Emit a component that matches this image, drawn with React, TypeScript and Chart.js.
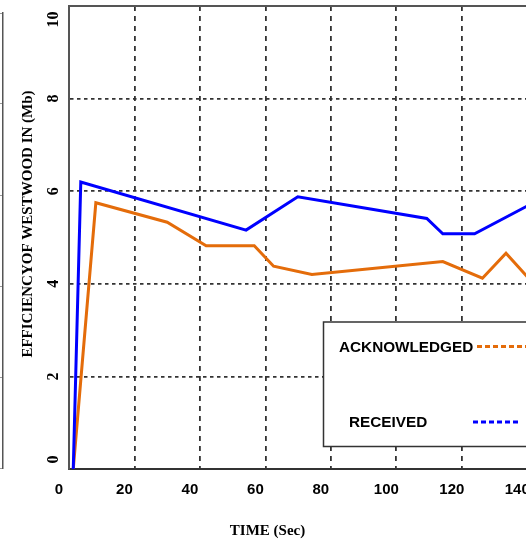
import React, { useEffect, useRef } from "react";
import { Chart, registerables } from "chart.js";

Chart.register(...registerables);

// ---- data ----
const timeReceived = [1.3, 3.6, 54.1, 69.9, 109.3, 114.2, 123.9, 140];
const received = [0, 6.2, 5.16, 5.88, 5.41, 5.08, 5.08, 5.68];

const timeAck = [1.3, 8.2, 30.0, 41.9, 56.6, 62.5, 74.2, 114.2, 126.3, 133.5, 140];
const acknowledged = [0, 5.75, 5.33, 4.82, 4.82, 4.38, 4.2, 4.48, 4.12, 4.66, 4.15];

const xTickValues = [0, 20, 40, 60, 80, 100, 120, 140];
const yTickValues = [0, 2, 4, 6, 8, 10];

const seriesLabels = ["RECEIVED", "ACKNOWLEDGED"];
const yTitle = "EFFICIENCYOF WESTWOOD IN (Mb)";
const xTitle = "TIME (Sec)";

const BLUE = "#0000ff";
const ORANGE = "#e46c0a";

const overlayPlugin = {
  id: "overlay",
  afterDraw(chart: any) {
    const { ctx, chartArea: a, scales } = chart;
    const ys = scales.y;
    ctx.save();
    // top frame line
    ctx.strokeStyle = "#555";
    ctx.lineWidth = 2;
    ctx.setLineDash([]);
    ctx.beginPath();
    ctx.moveTo(a.left - 1, a.top);
    ctx.lineTo(a.right, a.top);
    ctx.stroke();

    // y tick labels (rotated, kept inside the axis span)
    ctx.fillStyle = "#000";
    ctx.font = 'bold 16px "Liberation Serif"';
    ctx.textAlign = "center";
    ctx.textBaseline = "alphabetic";
    for (const t of ys.ticks) {
      const label = String(t.value);
      const w = ctx.measureText(label).width;
      let p = ys.getPixelForValue(t.value);
      p = Math.max(a.top + w / 2 + 5.5, Math.min(a.bottom - w / 2 - 5.5, p));
      ctx.save();
      ctx.translate(58.3, p);
      ctx.rotate(-Math.PI / 2);
      ctx.fillText(label, 0, 0);
      ctx.restore();
    }

    // y title
    ctx.font = 'bold 15px "Liberation Serif"';
    ctx.save();
    ctx.translate(31.5, 224);
    ctx.rotate(-Math.PI / 2);
    ctx.fillText(yTitle, 0, 0);
    ctx.restore();

    // x title
    ctx.fillText(xTitle, 267.5, 535);

    // legend
    const boxL = 323.5, boxT = 322, boxB = 446.5;
    ctx.fillStyle = "#fff";
    ctx.fillRect(boxL, boxT, 240, boxB - boxT);
    ctx.strokeStyle = "#333";
    ctx.lineWidth = 1.5;
    ctx.strokeRect(boxL, boxT, 240, boxB - boxT);

    const ds = chart.data.datasets;
    const ack = ds[1];
    const rec = ds[0];
    ctx.font = 'bold 15.3px "Liberation Sans"';
    ctx.textAlign = "left";
    ctx.fillStyle = "#000";
    ctx.fillText(ack.label, 339, 352);
    ctx.fillText(rec.label, 349, 426.5);

    ctx.lineWidth = 3;
    ctx.setLineDash([5, 3]);
    ctx.strokeStyle = ack.borderColor;
    ctx.beginPath();
    ctx.moveTo(477, 346.5);
    ctx.lineTo(526, 346.5);
    ctx.stroke();
    ctx.strokeStyle = rec.borderColor;
    ctx.beginPath();
    ctx.moveTo(473, 422);
    ctx.lineTo(520, 422);
    ctx.stroke();
    ctx.restore();
  },
};

export default function App() {
  const mainRef = useRef<HTMLCanvasElement | null>(null);
  const sideRef = useRef<HTMLCanvasElement | null>(null);

  useEffect(() => {
    const main = new Chart(mainRef.current as HTMLCanvasElement, {
      type: "line",
      data: {
        datasets: [
          {
            label: seriesLabels[0],
            data: timeReceived.map((x, i) => ({ x, y: received[i] })),
            borderColor: BLUE,
            backgroundColor: BLUE,
            borderWidth: 3,
            pointRadius: 0,
            tension: 0,
            fill: false,
          },
          {
            label: seriesLabels[1],
            data: timeAck.map((x, i) => ({ x, y: acknowledged[i] })),
            borderColor: ORANGE,
            backgroundColor: ORANGE,
            borderWidth: 3,
            pointRadius: 0,
            tension: 0,
            fill: false,
          },
        ],
      },
      options: {
        responsive: false,
        animation: false,
        layout: { padding: { top: 6, right: 10, left: 0, bottom: 0 } },
        plugins: { legend: { display: false }, tooltip: { enabled: false } },
        scales: {
          x: {
            type: "linear",
            position: "bottom",
            min: 0,
            max: 150,
            afterBuildTicks: (s: any) => {
              s.ticks = xTickValues.map((v) => ({ value: v }));
            },
            afterFit: (s: any) => {
              s.height = 71;
            },
            ticks: {
              autoSkip: false,
              maxRotation: 0,
              minRotation: 0,
              labelOffset: -10,
              padding: 12,
              color: "#000",
              font: { family: "Liberation Sans", weight: "bold", size: 15 },
            },
            grid: {
              drawTicks: false,
              lineWidth: 1.8,
              color: (c: any) => (c.tick && c.tick.value === 0 ? "rgba(0,0,0,0)" : "#333"),
            },
            border: { display: true, color: "#333", width: 2, dash: [5, 5] },
          },
          y: {
            type: "linear",
            position: "left",
            min: 0,
            max: 10,
            afterBuildTicks: (s: any) => {
              s.ticks = yTickValues.map((v) => ({ value: v }));
            },
            afterFit: (s: any) => {
              s.width = 69;
            },
            ticks: { display: false },
            grid: {
              drawTicks: false,
              lineWidth: 1.8,
              color: (c: any) =>
                c.tick && (c.tick.value === 0 || c.tick.value === 10) ? "rgba(0,0,0,0)" : "#333",
            },
            border: { display: true, color: "#555", width: 2, dash: [3.5, 3.5] },
          },
        },
      },
      plugins: [overlayPlugin],
    });

    // neighbouring panel whose right frame edge shows at the left of the picture
    const side = new Chart(sideRef.current as HTMLCanvasElement, {
      type: "line",
      data: { datasets: [] },
      options: {
        responsive: false,
        animation: false,
        layout: { padding: { top: 13, right: 1, left: 0, bottom: 72 } },
        plugins: { legend: { display: false }, tooltip: { enabled: false } },
        scales: {
          x: { type: "linear", min: 0, max: 1, display: false },
          y: {
            type: "linear",
            position: "right",
            min: 0,
            max: 10,
            afterBuildTicks: (s: any) => {
              s.ticks = yTickValues.map((v) => ({ value: v }));
            },
            afterFit: (s: any) => {
              s.width = 0;
            },
            ticks: { display: false },
            grid: { drawTicks: false, color: "#999", lineWidth: 1 },
            border: { display: true, color: "#555", width: 1.5 },
          },
        },
      },
    });

    return () => {
      main.destroy();
      side.destroy();
    };
  }, []);

  return (
    <div
      style={{
        position: "fixed",
        left: 0,
        top: 0,
        width: 526,
        height: 540,
        overflow: "hidden",
        background: "#fff",
      }}
    >
      <canvas
        ref={sideRef}
        width={300}
        height={540}
        style={{ position: "absolute", left: -296, top: 0, width: 300, height: 540 }}
      />
      <canvas
        ref={mainRef}
        width={570}
        height={540}
        style={{ position: "absolute", left: 0, top: 0, width: 570, height: 540 }}
      />
    </div>
  );
}
